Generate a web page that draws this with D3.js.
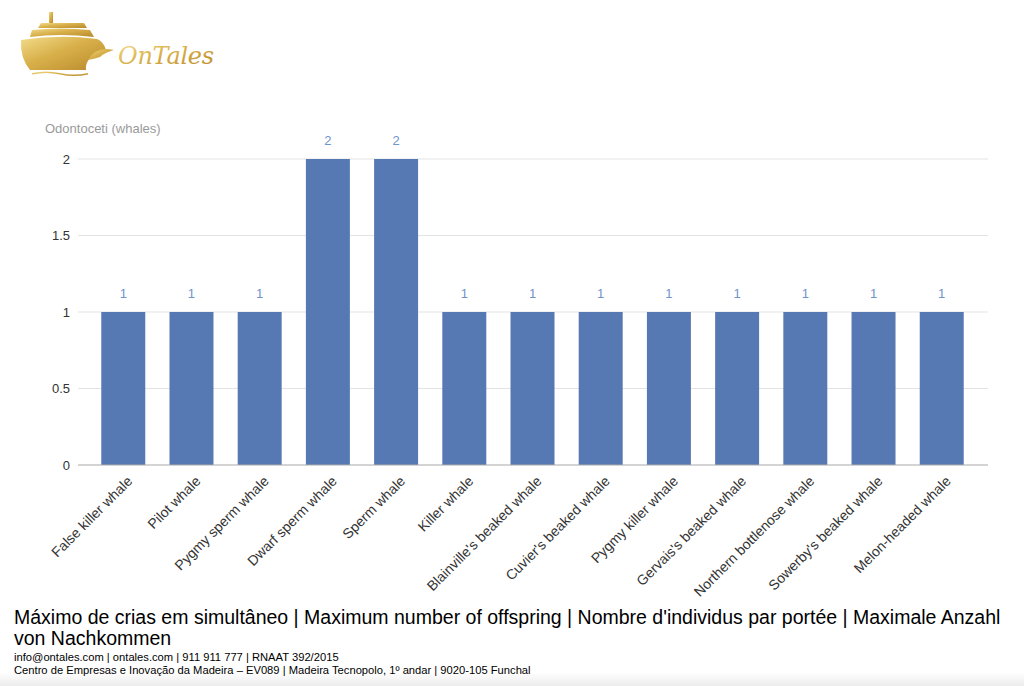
<!DOCTYPE html>
<html><head><meta charset="utf-8">
<script src="https://cdn.jsdelivr.net/npm/d3@7"></script>
<style>body{margin:0;background:#fff;}svg{display:block;font-family:"Liberation Sans",Arial,sans-serif;}</style>
</head><body>
<script>
const categories = ["False killer whale","Pilot whale","Pygmy sperm whale","Dwarf sperm whale","Sperm whale","Killer whale","Blainville's beaked whale","Cuvier's beaked whale","Pygmy killer whale","Gervais's beaked whale","Northern bottlenose whale","Sowerby's beaked whale","Melon-headed whale"];
const values = [1,1,1,2,2,1,1,1,1,1,1,1,1];
const yTicks = [0,0.5,1,1.5,2];
const axisTitle = "Odontoceti (whales)";
const titleLines = ["Máximo de crias em simultâneo | Maximum number of offspring | Nombre d'individus par portée | Maximale Anzahl","von Nachkommen"];
const footerLines = ["info@ontales.com | ontales.com | 911 911 777 | RNAAT 392/2015","Centro de Empresas e Inovação da Madeira – EV089 | Madeira Tecnopolo, 1º andar | 9020-105 Funchal"];

const W=1024,H=686;
const svg=d3.select("body").append("svg").attr("width",W).attr("height",H);
const defs=svg.append("defs");
const g1=defs.append("linearGradient").attr("id","gold").attr("x1","0").attr("y1","0").attr("x2","1").attr("y2","1");
g1.append("stop").attr("offset","0").attr("stop-color","#f3dc8a");
g1.append("stop").attr("offset","0.45").attr("stop-color","#d8b04a");
g1.append("stop").attr("offset","1").attr("stop-color","#b8892a");
const g2=defs.append("linearGradient").attr("id","fade").attr("x1","0").attr("y1","0").attr("x2","0").attr("y2","1");
g2.append("stop").attr("offset","0").attr("stop-color","#ffffff");
g2.append("stop").attr("offset","1").attr("stop-color","#ececec");
svg.append("rect").attr("x",0).attr("y",672).attr("width",W).attr("height",14).attr("fill","url(#fade)");

// Logo
const logo=svg.append("g").attr("fill","url(#gold)");
logo.append("path").attr("d","M21,40 Q60,34 97,39 Q104,42 106,50 Q96,50 90,58 Q85,64 86,70 L30,70 Q20,58 21,40 Z");
logo.append("path").attr("d","M30,37 L32,30 Q60,27 90,30 L94,37 Q60,33 30,37 Z");
logo.append("path").attr("d","M38,28 L41,23 L84,23 L87,28 Z");
logo.append("rect").attr("x",49).attr("y",12).attr("width",4).attr("height",11);
logo.append("path").attr("d","M88,60 Q96,46 114,50 Q104,53 100,57 Q94,59 88,60 Z");
logo.append("path").attr("d","M32,73 Q46,70 60,73 Q74,76 88,73 L88,74.5 Q74,77.5 60,74.5 Q46,71.5 32,74.5 Z");
svg.append("text").attr("x",118).attr("y",64).attr("fill","url(#gold)")
  .attr("font-family","'DejaVu Serif',serif").attr("font-style","italic").attr("font-size",24)
  .attr("textLength",96).text("OnTales");

// Chart
const x0=78,x1=988,yTop=159,yBot=465;
const x=d3.scaleBand().domain(categories).range([89,976]).paddingInner(0.355).paddingOuter(0.18);
const y=d3.scaleLinear().domain([0,2]).range([yBot,yTop]);

const grid=svg.append("g");
grid.selectAll("line").data(yTicks.filter(d=>d>0)).join("line")
  .attr("x1",x0).attr("x2",x1).attr("y1",d=>y(d)).attr("y2",d=>y(d))
  .attr("stroke","#e3e3e3").attr("stroke-width",1);

svg.append("g").selectAll("rect").data(values).join("rect")
  .attr("x",(d,i)=>x(categories[i])).attr("width",x.bandwidth())
  .attr("y",d=>y(d)).attr("height",d=>yBot-y(d)).attr("fill","#5779b3");

svg.append("line").attr("x1",x0).attr("x2",x1).attr("y1",yBot).attr("y2",yBot).attr("stroke","#aaaaaa").attr("stroke-width",1.2);

const yAxis=d3.axisLeft(y).tickValues(yTicks).tickSize(0).tickPadding(0).tickFormat(d3.format("~g"));
const ya=svg.append("g").attr("transform",`translate(70,0)`).call(yAxis);
ya.select(".domain").remove();
ya.selectAll("text").attr("fill","#333").attr("font-size",13).attr("font-family","'Liberation Sans',Arial,sans-serif");

svg.append("g").selectAll("text").data(values).join("text")
  .attr("x",(d,i)=>x(categories[i])+x.bandwidth()/2).attr("y",d=>y(d)-14)
  .attr("text-anchor","middle").attr("fill","#7094cc").attr("font-size",13).text(d=>d);

const xAxis=d3.axisBottom(x).tickSize(0).tickPadding(0);
const xa=svg.append("g").attr("transform",`translate(0,${yBot})`).call(xAxis);
xa.select(".domain").remove();
xa.selectAll("text").attr("fill","#333").attr("font-size",14).attr("font-family","'Liberation Sans',Arial,sans-serif")
  .attr("text-anchor","end").attr("dy",0).attr("y",0)
  .attr("transform","translate(10,17) rotate(-45)");

svg.append("text").attr("x",45).attr("y",133).attr("fill","#9a9a9a").attr("font-size",13).text(axisTitle);

// Footer
const ft=svg.append("g");
ft.selectAll("text.t").data(titleLines).join("text").attr("class","t")
  .attr("x",14).attr("y",(d,i)=>624+i*21).attr("font-size",19.5).attr("fill","#000").text(d=>d);
ft.selectAll("text.f").data(footerLines).join("text").attr("class","f")
  .attr("x",14).attr("y",(d,i)=>661+i*13).attr("font-size",11.2).attr("fill","#000").text(d=>d);
</script>
</body></html>
